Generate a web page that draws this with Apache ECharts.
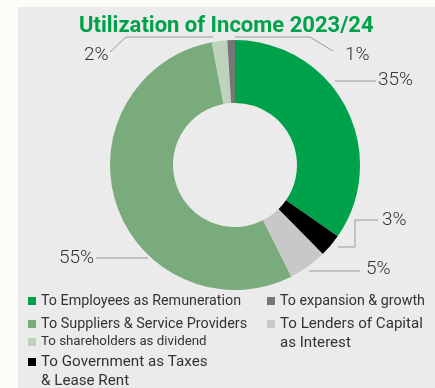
<!DOCTYPE html>
<html>
<head>
<meta charset="utf-8">
<script src="https://cdn.jsdelivr.net/npm/echarts@6/dist/echarts.min.js"></script>
<style>
  html, body { margin: 0; padding: 0; background: #fcfcf8; }
  #chart { width: 435px; height: 388px; }
</style>
</head>
<body>
<div id="chart"></div>
<script>
// Slices in clockwise order starting at 12 o'clock
const categories = [
  'To Employees as Remuneration',
  'To Government as Taxes & Lease Rent',
  'To Lenders of Capital as Interest',
  'To Suppliers & Service Providers',
  'To shareholders as dividend',
  'To expansion & growth'
];
const shares = [35, 3, 5, 55, 2, 1];
const sliceColors = ['#00a14b', '#000000', '#c8c8c8', '#7aab7c', '#bdd3bc', '#767676'];

// Where each percentage label sits and how its leader line runs
const labelSpots = [
  { x: 378, y: 80, line: [[335, 81], [356, 81], [376, 81]] },
  { x: 382, y: 220, line: [[338, 247], [355, 247], [355, 220], [378, 220]] },
  { x: 366, y: 269, line: [[309, 271], [335, 271], [360, 271]] },
  { x: 59, y: 258, line: [[148, 258], [120, 258], [96, 258]] },
  { x: 84, y: 55, line: [[213, 37], [126, 37], [110, 52]] },
  { x: 345, y: 55, line: [[235, 37], [310, 37], [333, 51]] }
];

// Legend placement: [category index, left, icon centre y, font size, wrapped]
const legendSpots = [
  [0, 28, 301, 14.3, false],
  [5, 267, 301, 14.3, false],
  [3, 28, 324, 14.4, false],
  [2, 267, 324, 15.1, true],
  [4, 28, 342, 13.3, false],
  [1, 28, 362, 15.2, true]
];

// Wrapped names start with a blank line so the first text line sits beside the swatch
const wrapName = {
  'To Government as Taxes & Lease Rent': '\nTo Government as Taxes\n& Lease Rent',
  'To Lenders of Capital as Interest': '\nTo Lenders of Capital\nas Interest'
};

const LINE = 19;
const chart = echarts.init(document.getElementById('chart'), null, { renderer: 'canvas' });

const legends = legendSpots.map(function (s) {
  const wrap = s[4];
  const half = wrap ? LINE * 1.5 : LINE / 2;
  return {
    data: [categories[s[0]]],
    left: s[1],
    top: s[2] - half,
    padding: 0,
    itemWidth: 8,
    itemHeight: 8,
    itemGap: 0,
    icon: 'rect',
    selectedMode: false,
    formatter: function (name) { return wrapName[name] || name; },
    textStyle: {
      color: '#333',
      fontSize: s[3],
      fontFamily: 'Roboto',
      lineHeight: LINE
    }
  };
});

chart.setOption({
  backgroundColor: '#fcfcf8',
  title: {
    text: 'Utilization of Income 2023/24',
    left: 79,
    top: 15,
    padding: 0,
    textStyle: { color: '#00a14b', fontSize: 22, fontWeight: 'bold', fontFamily: 'Roboto' }
  },
  graphic: [{
    type: 'rect',
    left: 18, top: 7,
    shape: { width: 417, height: 381 },
    style: { fill: '#ebebeb' },
    z: -10,
    silent: true
  }],
  legend: legends,
  series: [{
    type: 'pie',
    center: [235, 165],
    radius: [62, 125],
    startAngle: 90,
    clockwise: true,
    avoidLabelOverlap: false,
    color: sliceColors,
    itemStyle: { borderWidth: 0 },
    label: {
      show: true,
      position: 'outside',
      formatter: '{c}%',
      color: '#333',
      fontSize: 19,
      fontFamily: 'Roboto',
      fontWeight: 300
    },
    labelLine: {
      show: true,
      smooth: false,
      lineStyle: { color: '#999', width: 1 }
    },
    labelLayout: function (p) {
      const s = labelSpots[p.dataIndex];
      return { x: s.x, y: s.y, align: 'left', verticalAlign: 'middle', labelLinePoints: s.line };
    },
    emphasis: { disabled: true },
    data: categories.map(function (c, i) { return { name: c, value: shares[i] }; })
  }]
});
</script>
</body>
</html>
